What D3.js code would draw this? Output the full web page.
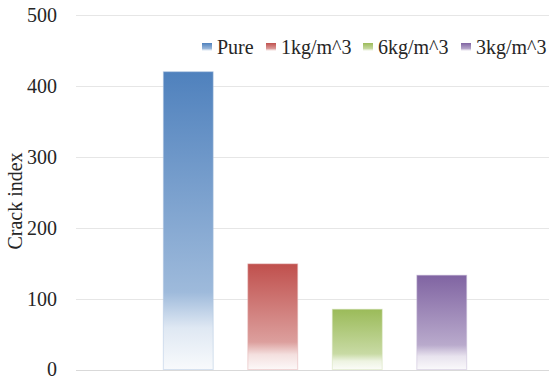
<!DOCTYPE html>
<html>
<head>
<meta charset="utf-8">
<script src="https://cdn.jsdelivr.net/npm/d3@7"></script>
<style>
  html, body { margin: 0; padding: 0; background: #fff; }
  svg { display: block; }
  text { font-family: "Liberation Serif", "Times New Roman", serif; fill: #262626; }
</style>
</head>
<body>
<svg id="chart" width="549" height="381"></svg>
<script>
// Crack index for each mix
const seriesNames = ["Pure", "1kg/m^3", "6kg/m^3", "3kg/m^3"];
const crackIndex = [420, 149, 85, 133];
const seriesColors = ["#4f81bd", "#c0504d", "#9bbb59", "#8064a2"];
const yTicks = [0, 100, 200, 300, 400, 500];
const yTitle = "Crack index";
const serif = '"Liberation Serif", "Times New Roman", serif';

const svg = d3.select("#chart");
const plot = { left: 76, right: 549, top: 15, bottom: 369.5 };

const y = d3.scaleLinear().domain([0, 500]).range([plot.bottom, plot.top]);
const x = d3.scaleBand().domain(seriesNames).range([146, 484])
  .paddingInner(0.41).paddingOuter(0.205);

// Vertical gradients: strong at the top, fading to white at the base
const defs = svg.append("defs");
seriesNames.forEach((name, i) => {
  const mix = t => d3.interpolateRgb(seriesColors[i], "#ffffff")(t);
  const g = defs.append("linearGradient")
    .attr("id", "grad" + i).attr("x1", 0).attr("y1", 0).attr("x2", 0).attr("y2", 1);
  [[0, mix(0)], [0.74, mix(0.45)], [0.86, mix(0.82)], [1, mix(0.96)]].forEach(([o, col]) => {
    g.append("stop").attr("offset", o).attr("stop-color", col);
  });
});

// Gridlines
svg.append("g").selectAll("line").data(yTicks).join("line")
  .attr("x1", plot.left).attr("x2", plot.right)
  .attr("y1", d => Math.round(y(d)) + 0.5).attr("y2", d => Math.round(y(d)) + 0.5)
  .attr("stroke", d => d === 0 ? "#d9d9d9" : "#e6e6e6").attr("stroke-width", 1);

// Y axis labels
const yAxis = d3.axisLeft(y).tickValues(yTicks).tickSize(0).tickPadding(0);
const ya = svg.append("g").attr("transform", `translate(57,0)`).call(yAxis);
ya.attr("font-family", null).attr("font-size", null);
ya.select(".domain").remove();
ya.selectAll("text").style("font-size", "20px").style("font-family", serif).attr("fill", "#262626");

// Axis title
svg.append("text")
  .attr("transform", `translate(22,201) rotate(-90)`)
  .attr("text-anchor", "middle")
  .style("font-family", serif)
  .style("font-size", "20px")
  .text(yTitle);

// Bars
svg.append("g").selectAll("rect").data(crackIndex).join("rect")
  .attr("x", (d, i) => x(seriesNames[i]))
  .attr("width", x.bandwidth())
  .attr("y", d => y(d))
  .attr("height", d => y(0) - y(d))
  .attr("fill", (d, i) => `url(#grad${i})`)
  .attr("stroke", (d, i) => d3.interpolateRgb(seriesColors[i], "#ffffff")(0.55))
  .attr("stroke-opacity", 0.5)
  .attr("stroke-width", 1);

// Legend
const legendX = [202, 266, 363, 461];
const lg = svg.append("g");
seriesNames.forEach((name, i) => {
  const g = lg.append("g").attr("transform", `translate(${legendX[i]},47)`);
  g.append("rect").attr("x", 0).attr("y", -4).attr("width", 10).attr("height", 8)
    .attr("fill", `url(#grad${i})`);
  g.append("text").attr("x", 15).attr("y", 6.5)
    .style("font-family", serif).style("font-size", "20px").text(name);
});
</script>
</body>
</html>
